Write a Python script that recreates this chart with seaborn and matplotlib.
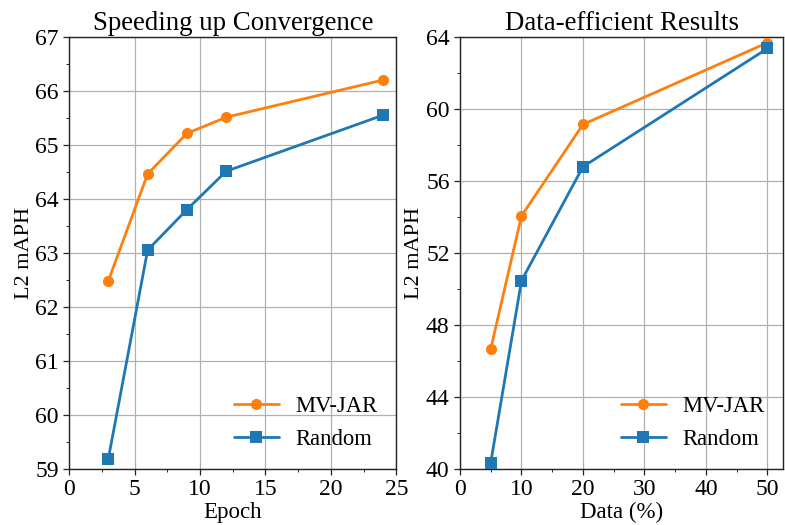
import numpy as np
import pandas as pd
import matplotlib

matplotlib.use("Agg")
import matplotlib.pyplot as plt
from matplotlib import font_manager as fm
from matplotlib.ticker import MultipleLocator
import seaborn as sns

# data
epochs = [3, 6, 9, 12, 24]
epoch_mvjar = [62.48, 64.46, 65.21, 65.51, 66.20]
epoch_random = [59.19, 63.05, 63.80, 64.51, 65.55]

data_pct = [5, 10, 20, 50]
data_mvjar = [46.67, 54.05, 59.13, 63.67]
data_random = [40.35, 50.45, 56.78, 63.35]

methods = ["MV-JAR", "Random"]
palette = {"MV-JAR": "#ff7f0e", "Random": "#1f77b4"}
markers = {"MV-JAR": "o", "Random": "s"}

# make sure the Times-like font is registered
for f in fm.findSystemFonts():
    if "LiberationSerif" in f.replace(" ", ""):
        try:
            fm.fontManager.addfont(f)
        except Exception:
            pass

sns.set_theme(style="ticks")
plt.rcParams["font.family"] = ["Liberation Serif", "DejaVu Serif"]
plt.rcParams["text.color"] = "black"
plt.rcParams["axes.labelcolor"] = "black"
plt.rcParams["xtick.color"] = "black"
plt.rcParams["ytick.color"] = "black"


def long_df(x, a, b, xname):
    return pd.DataFrame(
        {
            xname: list(x) * 2,
            "L2 mAPH": list(a) + list(b),
            "Method": ["MV-JAR"] * len(a) + ["Random"] * len(b),
        }
    )


df_epoch = long_df(epochs, epoch_mvjar, epoch_random, "Epoch")
df_data = long_df(data_pct, data_mvjar, data_random, "Data (%)")

fig = plt.figure(figsize=(7.85, 5.25), dpi=100)
ax1 = fig.add_axes([0.088, 0.107, 0.417, 0.823])
ax2 = fig.add_axes([0.586, 0.107, 0.412, 0.823])

for ax, df, xname in [(ax1, df_epoch, "Epoch"), (ax2, df_data, "Data (%)")]:
    sns.lineplot(
        data=df,
        x=xname,
        y="L2 mAPH",
        hue="Method",
        style="Method",
        hue_order=methods,
        style_order=methods,
        palette=palette,
        markers=markers,
        dashes=False,
        linewidth=2,
        markersize=8,
        markeredgewidth=0,
        ax=ax,
        zorder=3,
    )
    ax.grid(True, which="major", color="#b0b0b0", linewidth=0.9)
    ax.set_axisbelow(True)
    for s in ax.spines.values():
        s.set_color("#222222")
        s.set_linewidth(1.0)
    ax.tick_params(which="major", labelsize=17, length=4, width=0.9, colors="#222222", labelcolor="black")
    ax.tick_params(which="minor", length=2, width=0.7, colors="#222222")
    ax.set_xlabel(xname, fontsize=16.5, labelpad=1)
    ax.set_ylabel("L2 mAPH", fontsize=16, labelpad=1)
    handles, labels = ax.get_legend_handles_labels()
    ax.legend(
        handles,
        labels,
        loc="lower right",
        frameon=False,
        fontsize=16.3,
        handlelength=2.0,
        handletextpad=0.7,
        borderaxespad=0.45,
    )

ax1.set_xlim(0, 25)
ax1.set_ylim(59, 67)
ax1.xaxis.set_major_locator(MultipleLocator(5))
ax1.xaxis.set_minor_locator(MultipleLocator(2.5))
ax1.yaxis.set_major_locator(MultipleLocator(1))
ax1.yaxis.set_minor_locator(MultipleLocator(0.5))
ax1.set_title("Speeding up Convergence", fontsize=19.4, pad=5)

ax2.set_xlim(0, 52.6)
ax2.set_ylim(40, 64)
ax2.xaxis.set_major_locator(MultipleLocator(10))
ax2.xaxis.set_minor_locator(MultipleLocator(5))
ax2.yaxis.set_major_locator(MultipleLocator(4))
ax2.yaxis.set_minor_locator(MultipleLocator(2))
ax2.set_title("Data-efficient Results", fontsize=19.4, pad=5)

fig.savefig("out.png", dpi=100)
